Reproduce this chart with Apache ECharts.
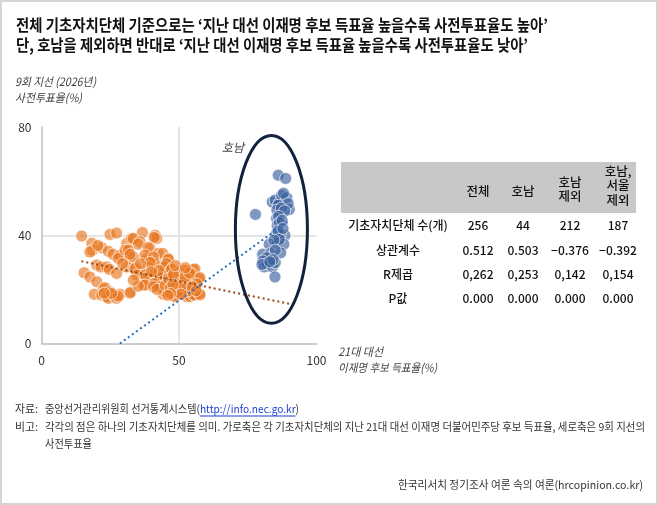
<!DOCTYPE html>
<html>
<head>
<meta charset="utf-8">
<script src="https://cdn.jsdelivr.net/npm/echarts@6/dist/echarts.min.js"></script>
<style>
  html, body { margin: 0; padding: 0; background: #fff; }
  #chart { width: 658px; height: 505px; }
</style>
</head>
<body>
<div id="chart"></div>
<script>
const KR = '"Noto Sans CJK KR", "Noto Sans", sans-serif';

// 텍스트
const titleLines = [
  '전체 기초자치단체 기준으로는 ‘지난 대선 이재명 후보 득표율 높을수록 사전투표율도 높아’',
  '단, 호남을 제외하면 반대로 ‘지난 대선 이재명 후보 득표율 높을수록 사전투표율도 낮아’'
];
const yAxisName = ['9회 지선 (2026년)', '사전투표율(%)'];
const xAxisName = ['21대 대선', '이재명 후보 득표율(%)'];
const honamLabel = '호남';
const sourceParts = ['중앙선거관리위원회 선거통계시스템(', 'http://info.nec.go.kr', ')'];
const noteLines = [
  '각각의 점은 하나의 기초자치단체를 의미. 가로축은 각 기초자치단체의 지난 21대 대선 이재명 더불어민주당 후보 득표율, 세로축은 9회 지선의',
  '사전투표율'
];
const credit = '한국리서치 정기조사 여론 속의 여론(hrcopinion.co.kr)';

// 축
const xTicks = [0, 50, 100];
const yTicks = [0, 40, 80];

// 호남 제외 기초자치단체 [대선 득표율, 사전투표율]
const othersPoints = [
  [14.6, 39.7], [18.3, 37.0], [18.5, 34.5], [17.6, 33.8], [21.9, 35.4], [20.5, 36.2], [24.3, 34.1],
  [24.9, 40.3], [27.3, 40.8], [26.0, 33.0], [28.5, 32.5], [27.9, 31.4], [31.0, 37.0], [30.4, 34.5],
  [32.2, 31.4], [20.1, 29.0], [21.6, 28.3], [23.7, 28.3], [24.7, 27.4], [27.3, 25.9], [31.0, 28.3],
  [29.5, 29.5], [15.5, 26.1], [17.6, 24.6], [20.1, 22.8], [22.5, 20.3], [23.1, 20.6], [24.9, 19.1],
  [19.2, 18.2], [21.9, 17.9], [23.7, 17.3], [24.3, 16.7], [26.1, 17.9], [28.5, 18.2], [27.3, 16.7],
  [27.9, 17.5], [25.5, 18.5], [32.5, 19.1], [32.2, 18.7], [22.8, 18.6],
  [36.7, 41.0], [32.8, 38.8], [33.4, 38.8], [35.8, 37.6], [35.2, 36.7], [41.3, 40.0], [41.9, 38.8],
  [41.0, 39.2], [39.5, 35.1], [38.8, 35.5], [31.6, 34.5], [33.4, 32.0], [32.2, 33.0], [42.5, 33.3],
  [44.1, 33.3], [46.1, 31.4], [46.1, 31.1], [41.9, 29.6], [41.3, 29.3], [38.3, 31.4], [37.6, 32.7],
  [40.7, 32.0], [38.8, 28.3], [36.4, 26.1], [34.4, 28.3], [34.0, 27.7], [34.6, 25.3], [37.6, 25.3],
  [38.0, 24.3], [41.3, 25.9], [43.7, 24.6], [44.3, 28.3], [44.3, 26.1], [44.9, 28.3], [43.1, 24.3],
  [40.6, 22.2], [41.3, 22.2], [43.1, 21.0], [37.0, 21.6], [37.6, 21.6], [35.2, 21.2], [33.4, 23.4],
  [40.7, 21.0], [44.3, 18.2], [44.9, 19.1], [42.0, 20.0], [46.0, 23.4], [45.5, 29.5], [39.5, 30.0],
  [36.0, 29.5], [42.8, 27.0], [40.0, 26.5], [46.5, 26.0], [45.0, 21.5],
  [47.3, 27.7], [47.3, 27.4], [49.8, 25.9], [52.8, 25.3], [54.6, 26.5], [55.2, 27.4], [55.8, 27.5],
  [54.6, 25.9], [57.3, 24.1], [57.6, 24.3], [46.1, 24.1], [48.5, 22.8], [49.2, 23.4], [47.3, 24.5],
  [51.6, 22.8], [54.0, 23.4], [52.8, 22.2], [50.4, 20.0], [48.5, 17.9], [48.5, 17.3], [51.6, 19.1],
  [51.6, 18.5], [52.8, 17.3], [54.0, 17.3], [55.2, 17.9], [55.8, 17.9], [57.6, 17.9], [57.6, 18.2],
  [49.0, 21.0], [50.5, 24.0], [53.0, 20.5], [55.5, 20.8], [56.5, 22.0], [50.0, 26.5], [52.0, 27.0],
  [48.0, 25.5], [46.8, 20.5], [49.5, 19.0], [53.5, 19.5], [51.0, 21.5], [47.8, 21.8], [54.8, 21.0],
  [56.2, 19.5], [52.2, 24.6], [50.8, 18.2], [53.8, 26.0], [47.0, 18.5], [46.0, 17.8], [48.7, 28.8],
  [52.3, 28.0]
];

// 호남 기초자치단체
const honamPoints = [
  [86.1, 62.2], [88.8, 61.0], [77.8, 47.7], [83.9, 52.3], [85.0, 53.0], [86.5, 52.0], [87.3, 54.8],
  [89.2, 53.9], [88.0, 55.5], [90.1, 49.5], [89.7, 51.7], [86.1, 51.1], [85.6, 49.3], [87.2, 50.0],
  [88.4, 49.0], [85.5, 46.2], [86.2, 47.0], [85.7, 43.7], [86.5, 44.6], [87.5, 45.5], [85.5, 40.7],
  [88.5, 40.0], [86.8, 40.3], [86.0, 41.6], [82.8, 36.7], [85.7, 37.0], [88.1, 36.7], [86.5, 38.5],
  [84.5, 38.2], [80.4, 33.0], [83.3, 33.3], [87.0, 33.5], [85.0, 34.5], [81.9, 31.7], [80.5, 30.5],
  [81.0, 28.3], [82.0, 29.5], [84.0, 28.3], [85.0, 29.9], [84.2, 31.0], [84.9, 24.6], [80.2, 29.2],
  [83.0, 30.2], [87.8, 42.5]
];

// 추세선 양 끝점
const trendAll = [[28.5, 0], [89.5, 45]];
const trendOthers = [[14.5, 30.4], [90.5, 14.6]];

// 호남 표시 타원: 중심 x, 중심 y, 반지름 x, 반지름 y (축 단위)
const honamEllipse = [83.6, 42.2, 13.1, 34.7];
const honamLabelAt = [69.6, 72.5];

// 표
const tableCols = ['전체', '호남', '호남\n제외', '호남,\n서울\n제외'];
const tableRows = ['기초자치단체 수(개)', '상관계수', 'R제곱', 'P값'];
const tableValues = [
  ['256', '44', '212', '187'],
  ['0.512', '0.503', '−0.376', '−0.392'],
  ['0,262', '0,253', '0,142', '0,154'],
  ['0.000', '0.000', '0.000', '0.000']
];

// 글자 폭 재기
const measureCtx = document.createElement('canvas').getContext('2d');
function textWidth(text, font) {
    measureCtx.font = font;
    return measureCtx.measureText(text).width;
}
function fontOf(size, opts) {
    return (opts.italic ? 'italic ' : '') + (opts.bold ? 'bold ' : '') + size + 'px ' + KR;
}
// 한 줄을 원본 폭에 맞춰 배치
function fitLine(text, left, right, y, size, opts) {
    opts = opts || {};
    let font = fontOf(size, opts);
    let k = (right - left) / textWidth(text, font);
    return {
        type: 'text', x: left, y: y, scaleX: k, z: 100,
        style: {text: text, font: font, fill: opts.color || '#222', textAlign: 'left', textVerticalAlign: 'middle'}
    };
}

let graphics = [];
graphics.push({
    type: 'rect', shape: {x: 1, y: 1, width: 656, height: 503},
    style: {fill: 'none', stroke: '#d6d6d6', lineWidth: 2}, z: 0
});
graphics.push(fitLine(titleLines[0], 16, 548, 25, 15.5, {bold: true, color: '#111'}));
graphics.push(fitLine(titleLines[1], 16, 528, 45, 15.5, {bold: true, color: '#111'}));
graphics.push(fitLine(yAxisName[0], 15, 96, 82, 11.5, {italic: true, color: '#444'}));
graphics.push(fitLine(yAxisName[1], 15, 82, 98, 11.5, {italic: true, color: '#444'}));
graphics.push(fitLine(xAxisName[0], 338, 383, 352, 11.5, {italic: true, color: '#444'}));
graphics.push(fitLine(xAxisName[1], 338, 437, 368, 11.5, {italic: true, color: '#444'}));

// 자료 줄 (링크 포함)
graphics.push(fitLine('자료:', 15, 38, 409, 11, {color: '#333'}));
(function () {
    let font = fontOf(11, {});
    let widths = sourceParts.map(t => textWidth(t, font));
    let total = widths.reduce((a, b) => a + b, 0);
    let k = (299 - 45) / total;
    let x = 45;
    sourceParts.forEach((t, i) => {
        let isLink = i === 1;
        graphics.push({
            type: 'text', x: x, y: 409, scaleX: k, z: 100,
            style: {text: t, font: font, fill: isLink ? '#1a3fd6' : '#333', textAlign: 'left', textVerticalAlign: 'middle'}
        });
        if (isLink) {
            graphics.push({
                type: 'line', z: 100,
                shape: {x1: x, y1: 416, x2: x + widths[i] * k, y2: 416},
                style: {stroke: '#1a3fd6', lineWidth: 1}
            });
        }
        x += widths[i] * k;
    });
})();
graphics.push(fitLine('비고:', 15, 38, 427, 11, {color: '#333'}));
graphics.push(fitLine(noteLines[0], 45, 645, 427, 11, {color: '#333'}));
graphics.push(fitLine(noteLines[1], 45, 92, 444, 11, {color: '#333'}));
graphics.push(fitLine(credit, 398, 643, 485, 11, {color: '#333'}));

// 표
const colX = [478, 523, 570, 618];
const labelX = 398;
const headY = [191, 191, 189, 185.5];
const rowY = [225.5, 250, 274, 298];
graphics.push({
    type: 'rect', shape: {x: 341, y: 162, width: 295, height: 51},
    style: {fill: '#c8c8c8'}, z: 50
});
tableCols.forEach((t, i) => {
    graphics.push({
        type: 'text', x: colX[i], y: headY[i], z: 100,
        style: {text: t, font: '500 12.5px ' + KR, fill: '#111', textAlign: 'center', textVerticalAlign: 'middle', lineHeight: 14.5}
    });
});
tableRows.forEach((t, r) => {
    graphics.push({
        type: 'text', x: labelX, y: rowY[r], z: 100,
        style: {text: t, font: '500 12px ' + KR, fill: '#111', textAlign: 'center', textVerticalAlign: 'middle'}
    });
    tableValues[r].forEach((v, c) => {
        graphics.push({
            type: 'text', x: colX[c], y: rowY[r], z: 100,
            style: {text: v, font: '500 12px ' + KR, fill: '#111', textAlign: 'center', textVerticalAlign: 'middle'}
        });
    });
});

let option = {
    animation: false,
    backgroundColor: '#ffffff',
    grid: {left: 41.5, top: 127, width: 275, height: 216.5},
    xAxis: {
        type: 'value', min: xTicks[0], max: xTicks[xTicks.length - 1], interval: xTicks[1] - xTicks[0],
        axisLine: {lineStyle: {color: '#bfbfbf', width: 1.5}},
        axisTick: {show: false},
        axisLabel: {color: '#333', fontSize: 12, fontFamily: KR, margin: 11},
        splitLine: {show: true, showMinLine: false, showMaxLine: false, lineStyle: {color: '#dcdcdc', width: 1.5}}
    },
    yAxis: {
        type: 'value', min: yTicks[0], max: yTicks[yTicks.length - 1], interval: yTicks[1] - yTicks[0],
        axisLine: {show: true, lineStyle: {color: '#bfbfbf', width: 1.5}},
        axisTick: {show: false},
        axisLabel: {color: '#333', fontSize: 12, fontFamily: KR, margin: 10},
        splitLine: {show: true, showMinLine: false, showMaxLine: false, lineStyle: {color: '#dcdcdc', width: 1.5}}
    },
    series: [
        {
            name: '호남 제외', type: 'scatter', data: othersPoints, symbolSize: 12, z: 2,
            itemStyle: {color: 'rgba(232,117,30,0.8)', borderColor: 'rgba(255,255,255,0.8)', borderWidth: 1}
        },
        {
            name: '호남', type: 'scatter', data: honamPoints, symbolSize: 12, z: 2,
            itemStyle: {color: 'rgba(60,98,158,0.82)', borderColor: 'rgba(255,255,255,0.8)', borderWidth: 1}
        },
        {
            name: '추세(호남 제외)', type: 'line', data: trendOthers, symbol: 'none', z: 3,
            lineStyle: {color: '#9a4a14', width: 2, type: [2, 3]}
        },
        {
            name: '추세(전체)', type: 'line', data: trendAll, symbol: 'none', z: 3,
            lineStyle: {color: '#2c6cc0', width: 2, type: [2, 3]}
        },
        {
            name: '호남 표시', type: 'custom', data: [honamEllipse], z: 4, silent: true,
            encode: {x: 0, y: 1},
            renderItem: (params, api) => {
                let c = api.coord([api.value(0), api.value(1)]);
                let s = api.size([api.value(2), api.value(3)]);
                let lp = api.coord(honamLabelAt);
                return {
                    type: 'group',
                    children: [
                        {
                            type: 'ellipse',
                            shape: {cx: c[0], cy: c[1], rx: s[0], ry: s[1]},
                            style: {fill: 'none', stroke: '#12223d', lineWidth: 3}
                        },
                        {
                            type: 'text', x: lp[0], y: lp[1],
                            style: {text: honamLabel, font: 'italic 12px ' + KR, fill: '#444', textAlign: 'center', textVerticalAlign: 'middle'}
                        }
                    ]
                };
            }
        }
    ],
    graphic: graphics
};

let chart = echarts.init(document.getElementById('chart'));
chart.setOption(option);
</script>
</body>
</html>
